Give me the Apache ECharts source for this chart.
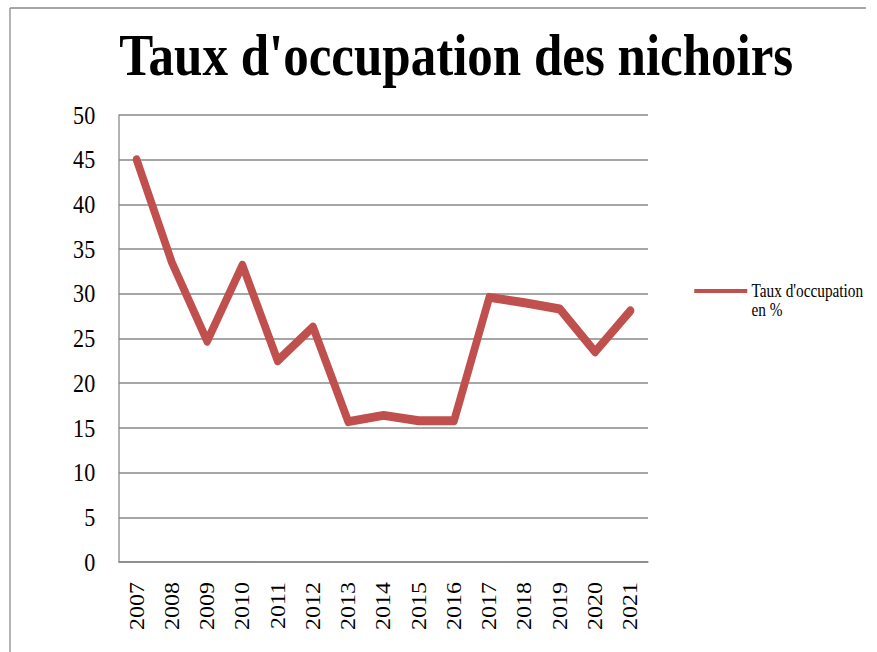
<!DOCTYPE html>
<html>
<head>
<meta charset="utf-8">
<title>Taux d'occupation des nichoirs</title>
<script src="https://cdn.jsdelivr.net/npm/echarts@6/dist/echarts.min.js"></script>
<style>
  html, body { margin: 0; padding: 0; background: #fff; overflow: hidden; }
  /* the source picture is squeezed sideways, so the chart is drawn wider and scaled down */
  #chart {
    width: 1032px;
    height: 652px;
    transform: scaleX(0.85);
    transform-origin: 0 0;
  }
</style>
</head>
<body>
<div id="chart"></div>
<script>
const years = ['2007', '2008', '2009', '2010', '2011', '2012', '2013', '2014',
  '2015', '2016', '2017', '2018', '2019', '2020', '2021']
const occupation = [45, 33.5, 24.7, 33.2, 22.5, 26.3, 15.7, 16.4,
  15.8, 15.8, 29.6, 29.0, 28.3, 23.5, 28.1]
const seriesName = "Taux d'occupation en %"
const legendLines = ["Taux d'occupation", 'en %']
const titleText = "Taux d'occupation des nichoirs"

const SX = 0.85
const px = x => x / SX
const grey = '#888888'
const serif = 'Liberation Serif'

const myChart = echarts.init(document.getElementById('chart'), null, { renderer: 'svg' })

myChart.setOption({
  animation: false,
  color: ['#C0504D'],
  title: {
    text: titleText,
    left: px(452),
    textAlign: 'center',
    top: 20,
    textStyle: {
      fontFamily: serif,
      fontWeight: 'bold',
      fontSize: 60,
      color: '#000',
    },
  },
  legend: {
    data: [seriesName],
    left: px(690),
    top: 258,
    icon: 'rect',
    itemWidth: px(53),
    itemHeight: 4,
    // empty first row so the first line of text sits level with the line sample
    formatter: () => '{s| }\n{a|' + legendLines[0] + '}\n{a|' + legendLines[1] + '}',
    textStyle: {
      fontFamily: serif,
      fontSize: 18,
      color: '#000',
      rich: {
        s: { fontSize: 18, lineHeight: 19 },
        a: { fontFamily: serif, fontSize: 18, lineHeight: 19, color: '#000' },
      },
    },
  },
  grid: {
    left: px(119),
    right: 1032 - px(648),
    top: 115,
    bottom: 90,
  },
  xAxis: {
    type: 'category',
    data: years,
    boundaryGap: true,
    axisLine: { lineStyle: { color: grey, width: 1.5 } },
    axisTick: { show: false },
    axisLabel: {
      rotate: 90,
      margin: 20,
      fontFamily: serif,
      fontSize: 24,
      color: '#000',
    },
  },
  yAxis: {
    type: 'value',
    min: 0,
    max: 50,
    interval: 5,
    axisLine: { show: true, lineStyle: { color: grey, width: 1.5 } },
    axisTick: { show: false },
    axisLabel: {
      margin: 28,
      fontFamily: serif,
      fontSize: 26,
      color: '#000',
    },
    splitLine: { lineStyle: { color: grey, width: 1.5 } },
  },
  series: [
    {
      name: seriesName,
      type: 'line',
      data: occupation,
      showSymbol: false,
      lineStyle: {
        width: 9,
        cap: 'round',
        join: 'round',
      },
    },
  ],
  graphic: [
    {
      type: 'line',
      shape: { x1: px(10), y1: 8, x2: px(866), y2: 8 },
      style: { stroke: grey, lineWidth: 1.5 },
    },
    {
      type: 'line',
      shape: { x1: px(10), y1: 8, x2: px(10), y2: 652 },
      style: { stroke: grey, lineWidth: 1.5 },
    },
  ],
})
</script>
</body>
</html>
